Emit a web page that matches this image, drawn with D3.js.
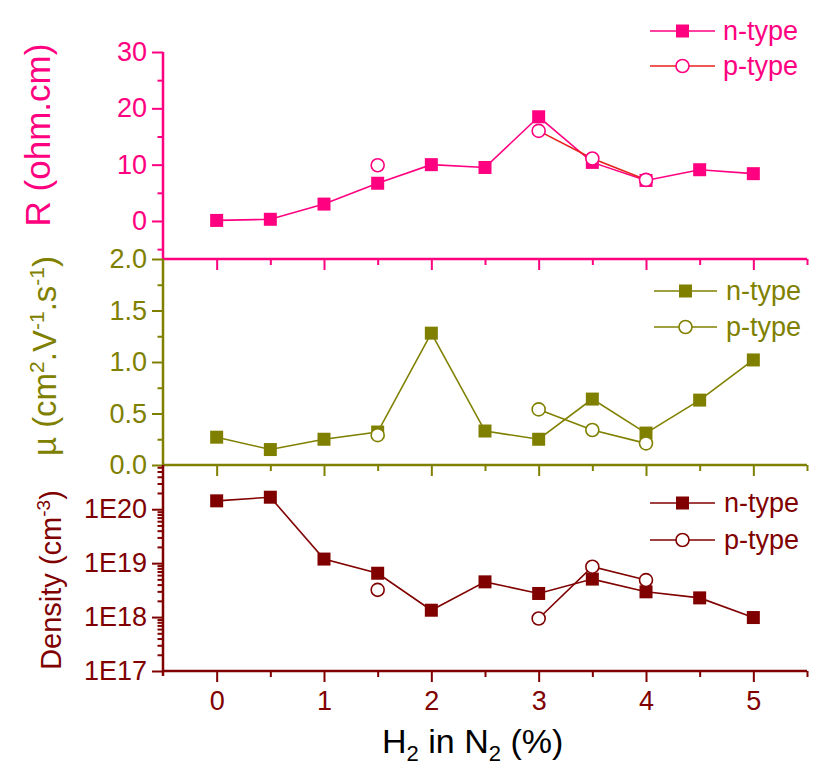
<!DOCTYPE html>
<html><head><meta charset="utf-8">
<script src="https://cdn.jsdelivr.net/npm/d3@7"></script>
<style>body{margin:0;background:#fff}svg{display:block}text{font-family:"Liberation Sans",Arial,sans-serif}</style>
</head><body>
<svg id="c" width="828" height="766"></svg>
<script>
const xs = [0,0.5,1,1.5,2,2.5,3,3.5,4,4.5,5];
const xTicks = [0,1,2,3,4,5];
const rN = [0.1,0.3,3.0,6.7,10.0,9.5,18.5,10.4,7.2,9.1,8.4];
const rP = [null,null,null,9.9,null,null,16.0,11.1,7.3,null,null];
const muN = [0.27,0.15,0.25,0.32,1.28,0.33,0.25,0.64,0.31,0.63,1.02];
const muP = [null,null,null,0.29,null,null,0.54,0.34,0.21,null,null];
const denN = [1.43e20,1.67e20,1.19e19,6.5e18,1.34e18,4.5e18,2.74e18,5.06e18,2.94e18,2.27e18,9.8e17];
const denP = [null,null,null,3.2e18,null,null,9.4e17,8.6e18,4.85e18,null,null];
const rTicks = [0,10,20,30];
const muTicks = [0,0.5,1.0,1.5,2.0];
const denTicks = [1e17,1e18,1e19,1e20];
const denTickLabels = ["1E17","1E18","1E19","1E20"];
const legendLabels = ["n-type","p-type"];

const PINK="#ff0080", RED="#e8201c", OLIVE="#808000", DRED="#800000";
const svg = d3.select("#c");
const X0=163, X1=807;
const x = d3.scaleLinear().domain([-0.5,5.5]).range([X0,X1]);

const panels = [
  {y:d3.scaleLinear().domain([-6.75,30]).range([259,52]), top:52, bot:259, color:PINK, pline:RED, n:rN, p:rP,
   ticks:rTicks, fmt:d=>d3.format("d")(d), minor:[-5,5,15,25], legend:{x1:650,x2:715,xt:723,y:[31,66]}},
  {y:d3.scaleLinear().domain([0,2]).range([465,259]), top:259, bot:465, color:OLIVE, pline:OLIVE, n:muN, p:muP,
   ticks:muTicks, fmt:d3.format(".1f"), minor:[0.25,0.75,1.25,1.75], legend:{x1:654,x2:717,xt:726,y:[291,327]}},
  {y:d3.scaleLog().domain([1e17,Math.pow(10,20.82)]).range([671,465]), top:465, bot:671, color:DRED, pline:DRED, n:denN, p:denP,
   ticks:denTicks, fmt:(d,i)=>denTickLabels[i], minor:(function(){const m=[];for(let e=17;e<=20;e++)for(let k=2;k<=9;k++){const v=k*Math.pow(10,e); if(v<Math.pow(10,20.82)) m.push(v);}return m;})(),
   legend:{x1:650,x2:715,xt:724,y:[503,540]}}
];

panels.forEach((P,pi)=>{
  const g = svg.append("g");
  const lineN = d3.line().x((d,i)=>x(xs[i])).y(d=>P.y(d)).defined(d=>d!=null);
  g.append("path").datum(P.n).attr("d",lineN).attr("fill","none").attr("stroke",P.color).attr("stroke-width",1.6);
  g.append("path").datum(P.p).attr("d",lineN).attr("fill","none").attr("stroke",P.pline).attr("stroke-width",1.6);
  g.selectAll("rect.n").data(P.n.map((v,i)=>({v,x:xs[i]})).filter(d=>d.v!=null)).enter().append("rect")
    .attr("x",d=>x(d.x)-6.5).attr("y",d=>P.y(d.v)-6.5).attr("width",13).attr("height",13).attr("fill",P.color);
  g.selectAll("circle.p").data(P.p.map((v,i)=>({v,x:xs[i]})).filter(d=>d.v!=null)).enter().append("circle")
    .attr("cx",d=>x(d.x)).attr("cy",d=>P.y(d.v)).attr("r",6.5).attr("fill","#fff").attr("stroke",P.color).attr("stroke-width",1.6);

  const ya = d3.axisLeft(P.y).tickValues(P.ticks).tickSize(11).tickPadding(5).tickFormat((d,i)=>P.fmt(d,i));
  const yg = svg.append("g").attr("transform",`translate(${X0},0)`).call(ya);
  yg.select(".domain").remove();
  yg.selectAll("line").attr("stroke",P.color).attr("stroke-width",2);
  yg.selectAll("text").attr("fill",P.color).attr("font-size",27).attr("font-family","Liberation Sans, Arial, sans-serif");
  const ym = d3.axisLeft(P.y).tickValues(P.minor).tickSize(5.5).tickFormat("");
  const ymg = svg.append("g").attr("transform",`translate(${X0},0)`).call(ym);
  ymg.select(".domain").remove();
  ymg.selectAll("line").attr("stroke",P.color).attr("stroke-width",2);
  svg.append("line").attr("x1",X0).attr("x2",X0).attr("y1",P.top).attr("y2",pi===2?P.bot+5:P.bot).attr("stroke",P.color).attr("stroke-width",2.5);

  const xa = d3.axisBottom(x).tickValues(xTicks).tickSize(11).tickPadding(9).tickFormat(pi===2?d3.format("d"):"");
  const xg = svg.append("g").attr("transform",`translate(0,${P.bot})`).call(xa);
  xg.select(".domain").remove();
  xg.selectAll("line").attr("stroke",P.color).attr("stroke-width",2);
  xg.selectAll("text").attr("fill",P.color).attr("font-size",27).attr("font-family","Liberation Sans, Arial, sans-serif");
  const xm = d3.axisBottom(x).tickValues([0.5,1.5,2.5,3.5,4.5,5.5]).tickSize(6).tickFormat("");
  const xmg = svg.append("g").attr("transform",`translate(0,${P.bot})`).call(xm);
  xmg.select(".domain").remove();
  xmg.selectAll("line").attr("stroke",P.color).attr("stroke-width",2);
  svg.append("line").attr("x1",X0).attr("x2",X1).attr("y1",P.bot).attr("y2",P.bot).attr("stroke",P.color).attr("stroke-width",2.5);

  const L = P.legend;
  L.y.forEach((yy,k)=>{
    svg.append("line").attr("x1",L.x1).attr("x2",L.x2).attr("y1",yy).attr("y2",yy).attr("stroke",k===0?P.color:P.pline).attr("stroke-width",1.6);
    const xc=(L.x1+L.x2)/2;
    if(k===0) svg.append("rect").attr("x",xc-6.5).attr("y",yy-6.5).attr("width",13).attr("height",13).attr("fill",P.color);
    else svg.append("circle").attr("cx",xc).attr("cy",yy).attr("r",6.5).attr("fill","#fff").attr("stroke",P.color).attr("stroke-width",1.6);
    svg.append("text").attr("x",L.xt).attr("y",yy).attr("dy","0.35em").attr("fill",P.color).attr("font-size",27).text(legendLabels[k]);
  });
});

svg.append("text").attr("transform","translate(50,135) rotate(-90)").attr("text-anchor","middle").attr("fill",PINK).attr("font-size",35).text("R (ohm.cm)");
const t2 = svg.append("text").attr("transform","translate(56,356) rotate(-90)").attr("text-anchor","middle").attr("fill",OLIVE).attr("font-size",33);
t2.append("tspan").text("\u00b5 (cm");
t2.append("tspan").attr("dy",-12).attr("font-size",21).text("2");
t2.append("tspan").attr("dy",12).text(".V");
t2.append("tspan").attr("dy",-12).attr("font-size",21).text("-1");
t2.append("tspan").attr("dy",12).text(".s");
t2.append("tspan").attr("dy",-12).attr("font-size",21).text("-1");
t2.append("tspan").attr("dy",12).text(")");
const t3 = svg.append("text").attr("transform","translate(61,580) rotate(-90)").attr("text-anchor","middle").attr("fill",DRED).attr("font-size",29);
t3.append("tspan").text("Density (cm");
t3.append("tspan").attr("dy",-11).attr("font-size",19).text("-3");
t3.append("tspan").attr("dy",11).text(")");

const tx = svg.append("text").attr("x",382).attr("y",753).attr("fill","#000").attr("font-size",34);
tx.append("tspan").text("H");
tx.append("tspan").attr("dy",8).attr("font-size",22).text("2");
tx.append("tspan").attr("dy",-8).text(" in N");
tx.append("tspan").attr("dy",8).attr("font-size",22).text("2");
tx.append("tspan").attr("dy",-8).text(" (%)");
</script>
</body></html>
